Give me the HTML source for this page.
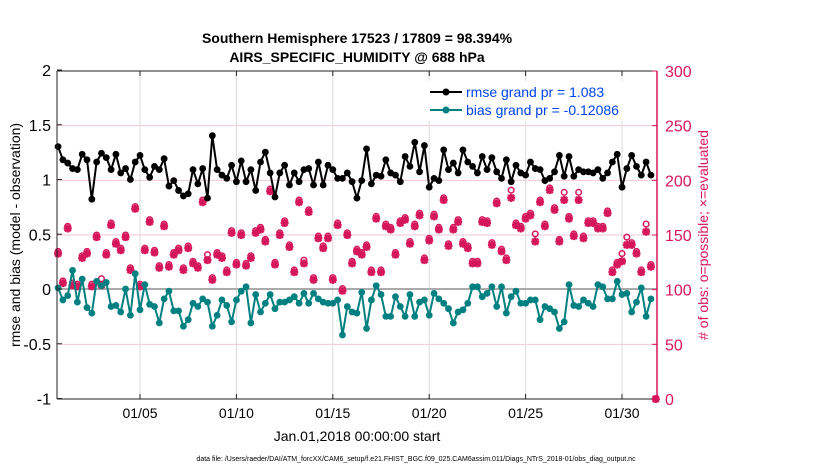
<!DOCTYPE html>
<html><head><meta charset="utf-8"><style>
body{margin:0;background:#fff;font-family:"Liberation Sans",sans-serif}
svg text{font-family:"Liberation Sans",sans-serif}
</style></head><body>
<svg id="chart" width="830" height="470" viewBox="0 0 830 470" xmlns="http://www.w3.org/2000/svg">
<rect width="830" height="470" fill="#fff"/>
<text x="357" y="43" text-anchor="middle" font-size="14" font-weight="bold">Southern Hemisphere 17523 / 17809 = 98.394%</text>
<text x="357" y="62" text-anchor="middle" font-size="14" font-weight="bold">AIRS_SPECIFIC_HUMIDITY @ 688 hPa</text>
<g id="grid"></g>
<g id="marks"></g>
<g id="axes"></g>
<text transform="translate(20,235) rotate(-90)" text-anchor="middle" font-size="14">rmse and bias (model - observation)</text>
<text transform="translate(708,235) rotate(-90)" text-anchor="middle" font-size="14" fill="#d6165a"># of obs: o=possible; ×=evaluated</text>
<text x="357" y="441" text-anchor="middle" font-size="14">Jan.01,2018 00:00:00 start</text>
<text x="416" y="461" text-anchor="middle" font-size="7">data file: /Users/raeder/DAI/ATM_forcXX/CAM6_setup/f.e21.FHIST_BGC.f09_025.CAM6assim.011/Diags_NTrS_2018-01/obs_diag_output.nc</text>
<g>
<rect x="424" y="81" width="222" height="40" fill="#fff"/>
<line x1="430" y1="92" x2="462" y2="92" stroke="#000" stroke-width="2"/>
<circle cx="446" cy="92" r="3.5" fill="#000"/>
<text x="466" y="97" font-size="14" fill="#0044ee">rmse grand pr = 1.083</text>
<line x1="430" y1="110" x2="462" y2="110" stroke="#008080" stroke-width="2"/>
<circle cx="446" cy="110" r="3.5" fill="#008080"/>
<text x="466" y="115" font-size="14" fill="#0044ee">bias grand pr = -0.12086</text>
</g>
</svg>
<script>
const rmse=[1.30,1.18,1.15,1.10,1.09,1.23,1.18,0.82,1.16,1.24,1.20,1.09,1.23,1.06,1.10,1.00,1.16,1.22,1.09,1.02,1.12,1.09,1.19,0.94,0.99,0.90,0.85,0.87,1.09,0.96,1.10,0.83,
1.40,1.09,1.04,1.01,1.13,0.98,1.17,0.98,1.09,0.90,1.16,1.25,1.06,0.84,1.06,1.13,0.95,1.06,0.98,1.09,1.10,0.95,1.16,0.95,1.13,1.09,1.01,1.01,1.06,0.98,0.83,
0.99,1.28,0.96,1.04,1.03,1.18,1.06,1.04,0.98,1.21,1.12,1.34,1.07,1.31,0.93,1.01,0.99,1.27,1.09,1.15,1.06,1.27,1.16,1.12,1.06,1.21,1.09,1.20,1.07,1.01,1.18,
0.98,1.13,1.06,1.04,1.16,1.10,1.09,0.99,1.01,1.07,1.22,1.03,1.21,1.03,1.09,1.07,1.07,1.06,1.09,1.01,1.06,1.16,1.23,0.93,1.10,1.22,1.12,1.04,1.16,1.04];
const bias=[0.01,-0.10,-0.06,0.17,-0.12,0.09,-0.17,-0.22,0.07,0.03,0.06,-0.16,-0.15,-0.21,0.00,-0.24,0.14,-0.19,0.04,-0.14,-0.16,-0.31,-0.09,-0.02,-0.20,-0.20,-0.34,-0.28,-0.13,-0.16,-0.09,-0.12,
-0.34,-0.24,-0.10,-0.15,-0.30,-0.10,-0.02,0.02,-0.31,-0.05,-0.21,-0.13,-0.05,-0.18,-0.12,-0.12,-0.10,-0.07,-0.13,-0.04,-0.13,-0.04,-0.09,-0.12,-0.13,-0.13,-0.10,-0.42,-0.16,-0.21,-0.22,
-0.03,-0.36,-0.10,0.03,-0.05,-0.25,-0.25,-0.07,-0.16,-0.25,-0.05,-0.25,-0.12,-0.10,-0.24,-0.04,-0.09,-0.13,-0.18,-0.31,-0.21,-0.19,-0.13,0.02,0.02,-0.07,-0.04,0.02,-0.16,0.02,-0.22,
-0.07,-0.02,-0.13,-0.13,-0.10,-0.10,-0.28,-0.16,-0.18,-0.21,-0.36,-0.30,0.04,-0.15,-0.16,-0.10,-0.13,-0.16,0.04,0.02,-0.09,-0.09,0.07,-0.05,-0.04,-0.21,-0.12,0.01,-0.25,-0.09];
const used=[133,106,156,104,103,129,133,103,148,104,132,159,142,136,148,118,174,103,136,162,134,120,158,121,132,136,118,138,124,120,180,127,
109,132,129,116,152,123,150,122,129,152,155,144,190,123,150,161,139,116,180,124,171,109,147,138,147,109,159,99,150,124,135,
132,139,116,165,116,158,155,132,161,164,142,158,168,127,145,167,155,182,140,155,162,142,138,124,124,162,161,141,179,135,127,
184,159,156,165,168,144,180,158,191,173,144,182,165,149,182,147,161,161,156,156,170,116,123,126,141,141,133,116,153,121,0];
const possible=[135,108,158,106,105,131,135,105,150,110,134,161,144,138,150,120,176,105,138,164,136,122,160,123,134,138,120,140,126,122,182,132,
111,134,131,118,154,125,152,124,131,154,157,146,192,125,152,163,141,118,182,127,173,111,149,140,149,111,161,101,152,126,137,
134,141,118,167,118,160,157,134,163,166,144,160,170,129,147,169,157,184,142,157,164,144,140,126,126,164,163,143,181,137,129,
191,161,158,167,170,151,182,160,193,175,146,189,167,151,189,149,163,163,158,158,172,118,125,133,148,143,135,118,160,123,0];
const xTickDays=[4,9,14,19,24,29];
const xTickLabels=["01/05","01/10","01/15","01/20","01/25","01/30"];
const yLeftTicks=[-1,-0.5,0,0.5,1,1.5,2];
const yRightTicks=[0,50,100,150,200,250,300];

const L=57,R=657,T=71,B=399;
const xs=d=>62.9+d*19.28;
const yl=v=>289-v*109.5;
const yr=c=>B-c*(B-T)/300;
const tAt=i=>i*0.25-0.25;
const NS="http://www.w3.org/2000/svg";
function mk(tag,attrs,parent){const e=document.createElementNS(NS,tag);for(const k in attrs)e.setAttribute(k,attrs[k]);parent.appendChild(e);return e;}
const grid=document.getElementById('grid'),marks=document.getElementById('marks'),axes=document.getElementById('axes');
const MAG="#d6165a",TEAL="#008080";

yRightTicks.forEach(c=>{if(c===0||c===100||c===300)return;const g=mk('line',{x1:L,x2:R,y1:yr(c),y2:yr(c),stroke:'#f4c6d6','stroke-width':1},grid);

});
xTickDays.forEach(d=>{const g=mk('line',{x1:xs(d),x2:xs(d),y1:T,y2:B,stroke:'#dcdcdc','stroke-width':1},grid);

});
const zl=mk('line',{x1:L,x2:R,y1:yl(0),y2:yl(0),stroke:'#aaaaaa','stroke-width':2},grid);



used.forEach((c,i)=>{
 const x=xs(tAt(i)),yp=yr(possible[i]),y=yr(c);
 const ci=mk('circle',{cx:x,cy:yp,r:2.8,fill:'none',stroke:MAG,'stroke-width':1.5},marks);
 
 
 const s=mk('path',{d:`M${x-4} ${y}H${x+4}M${x} ${y-4}V${y+4}M${x-3} ${y-3}L${x+3} ${y+3}M${x-3} ${y+3}L${x+3} ${y-3}`,stroke:MAG,'stroke-width':2.4},marks);
 
 
});
function series(arr,color,name){
 const pts=arr.map((v,i)=>xs(tAt(i)).toFixed(1)+','+yl(v).toFixed(1)).join(' ');
 const pl=mk('polyline',{points:pts,fill:'none',stroke:color,'stroke-width':2},marks);
 
 
 arr.forEach((v,i)=>{const c=mk('circle',{cx:xs(tAt(i)),cy:yl(v),r:3.4,fill:color},marks);
  
  });
}
series(bias,TEAL,'bias');
series(rmse,'#000','rmse');

const ax=[['line',{x1:L,x2:R,y1:T,y2:T,stroke:'#222','stroke-width':1}],['line',{x1:L,x2:R,y1:B,y2:B,stroke:'#222','stroke-width':1}],['line',{x1:L,x2:L,y1:T,y2:B,stroke:'#222','stroke-width':1}],['line',{x1:R,x2:R,y1:T,y2:B,stroke:MAG,'stroke-width':1.5}]];
ax.forEach(a=>{const e=mk(a[0],a[1],axes);
 
 });
yLeftTicks.forEach(v=>{const y=yl(v);mk('line',{x1:L,x2:L+5,y1:y,y2:y,stroke:'#222'},axes);
 const t=mk('text',{x:L-6,y:y+6,'text-anchor':'end','font-size':16},axes);t.textContent=String(v);
 
 });
yRightTicks.forEach(c=>{const y=yr(c);mk('line',{x1:R-5,x2:R,y1:y,y2:y,stroke:MAG},axes);
 const t=mk('text',{x:R+8,y:y+6,'font-size':16,fill:MAG},axes);t.textContent=String(c);
 
 });
xTickDays.forEach((d,i)=>{const x=xs(d);mk('line',{x1:x,x2:x,y1:B-5,y2:B,stroke:'#222'},axes);mk('line',{x1:x,x2:x,y1:T,y2:T+5,stroke:'#222'},axes);
 const t=mk('text',{x:x,y:B+19,'text-anchor':'middle','font-size':14},axes);t.textContent=xTickLabels[i];
 
 });
</script>
</body></html>
